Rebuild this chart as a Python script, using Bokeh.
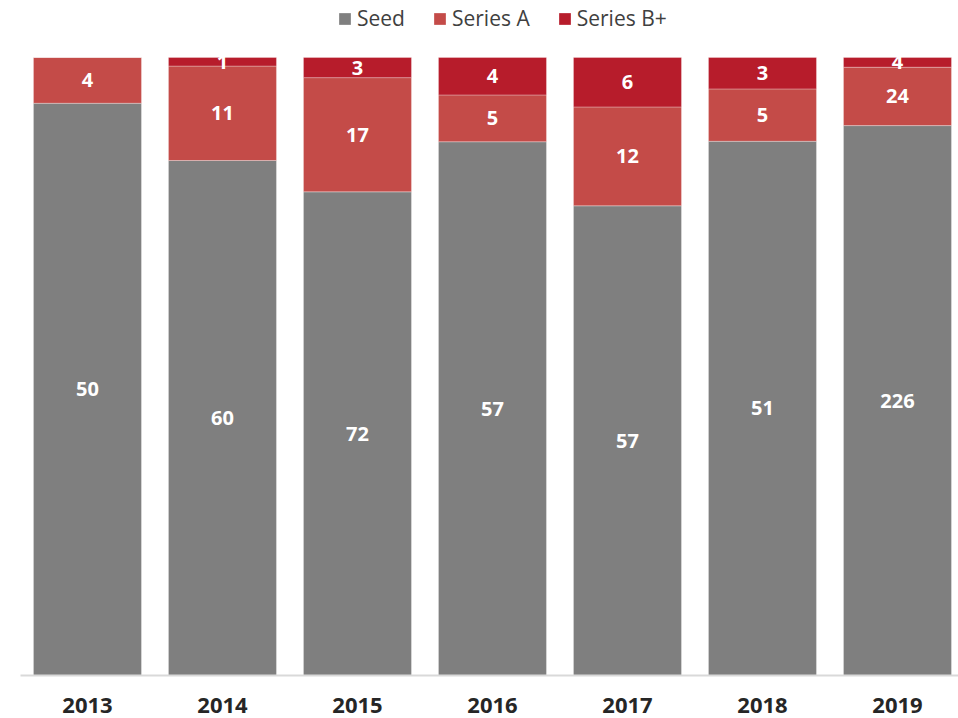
from bokeh.plotting import figure
from bokeh.models import ColumnDataSource, Range1d, FixedTicker, Legend, LegendItem
from bokeh.core.properties import value
from bokeh.embed import file_html
from bokeh.resources import INLINE

years = ["2013", "2014", "2015", "2016", "2017", "2018", "2019"]
seed = [50, 60, 72, 57, 57, 51, 226]
series_a = [4, 11, 17, 5, 12, 5, 24]
series_b = [0, 1, 3, 4, 6, 3, 4]

series_names = ["Seed", "Series A", "Series B+"]
colors = ["#7f7f7f", "#c44b48", "#b71c2b"]

xs = list(range(len(years)))
totals = [a + b + c for a, b, c in zip(seed, series_a, series_b)]
fr = {
    "seed": [v / t for v, t in zip(seed, totals)],
    "a": [v / t for v, t in zip(series_a, totals)],
    "b": [v / t for v, t in zip(series_b, totals)],
}
src = ColumnDataSource(dict(x=xs, **fr))

p = figure(width=958, height=718, output_backend="svg", toolbar_location=None,
           x_range=Range1d(-0.496, 6.452), y_range=Range1d(0, 1.0922))
p.min_border_left = 20
p.min_border_right = 0
p.min_border_top = 0
p.min_border_bottom = 43
p.outline_line_color = None
p.grid.visible = False
p.yaxis.visible = False

renderers = p.vbar_stack(["seed", "a", "b"], x="x", width=0.8, source=src,
                         color=colors, line_color="white", line_alpha=0.5, line_width=0.6)

# labels
lx, ly, lt = [], [], []
for i in xs:
    base = 0.0
    for vals, f in ((seed, fr["seed"]), (series_a, fr["a"]), (series_b, fr["b"])):
        if vals[i] > 0:
            lx.append(i)
            ly.append(base + f[i] / 2)
            lt.append(str(vals[i]))
        base += f[i]
p.text(x=lx, y=ly, text=lt, text_color="white", text_font=value("Open Sans"),
       text_font_style="bold", text_font_size="20px", text_align="center",
       text_baseline="middle")

ax = p.xaxis[0]
ax.ticker = FixedTicker(ticks=xs)
ax.major_label_overrides = {i: y for i, y in zip(xs, years)}
ax.major_tick_line_color = None
ax.minor_tick_line_color = None
ax.axis_line_color = "#d9d9d9"
ax.axis_line_width = 2
ax.major_label_text_font = "Open Sans"
ax.major_label_text_font_style = "bold"
ax.major_label_text_font_size = "22px"
ax.major_label_text_color = "#262626"
ax.major_label_standoff = 16

legend = Legend(items=[LegendItem(label=n, renderers=[r]) for n, r in zip(series_names, renderers)],
                orientation="horizontal", location=(317, 643))
legend.label_text_font = "Open Sans"
legend.label_text_font_size = "21px"
legend.label_text_color = "#404040"
legend.glyph_width = 15
legend.glyph_height = 15
legend.spacing = 27
legend.label_standoff = 5
legend.padding = 0
legend.margin = 0
legend.label_height = 24
legend.border_line_color = None
legend.background_fill_alpha = 0
p.add_layout(legend)

open("out.html", "w").write(file_html(p, INLINE))
